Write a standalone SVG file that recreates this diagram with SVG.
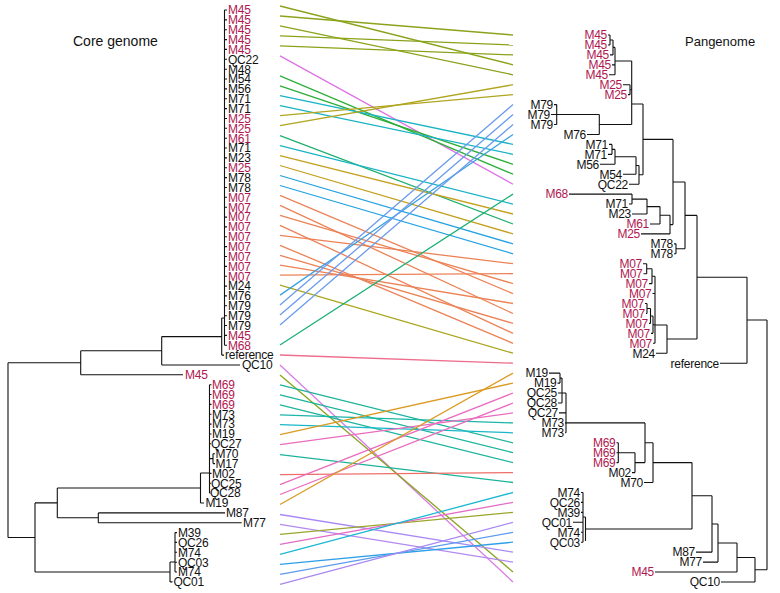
<svg xmlns="http://www.w3.org/2000/svg" width="780" height="593" viewBox="0 0 780 593">
<style>
.tr{fill:none;stroke:#111;stroke-width:1.1}
.lb{font-family:"Liberation Sans",Arial,sans-serif;font-size:12px;letter-spacing:-0.25px;fill:#111}
.r{fill:#B0174F}
.e{text-anchor:end}
.ti{font-family:"Liberation Sans",Arial,sans-serif;fill:#111}
#connectors line{stroke-width:1.3}
</style>
<rect width="780" height="593" fill="#fff"/>
<text class="ti" x="73" y="46" font-size="14">Core genome</text>
<text class="ti" x="685" y="46" font-size="13">Pangenome</text>

<g id="connectors">
<line x1="280" y1="6" x2="513" y2="64.8" stroke="#8AA31B"/>
<line x1="280" y1="16" x2="513" y2="35" stroke="#8AA31B"/>
<line x1="280" y1="25.9" x2="513" y2="74.8" stroke="#8AA31B"/>
<line x1="280" y1="35.9" x2="513" y2="45" stroke="#8AA31B"/>
<line x1="280" y1="45.9" x2="513" y2="54.9" stroke="#8AA31B"/>
<line x1="280" y1="55.9" x2="513" y2="184.2" stroke="#DD72E6"/>
<line x1="280" y1="75.8" x2="513" y2="174.2" stroke="#2DAE3A"/>
<line x1="280" y1="85.8" x2="513" y2="164.3" stroke="#2DAE3A"/>
<line x1="280" y1="95.7" x2="513" y2="144.4" stroke="#18B4C4"/>
<line x1="280" y1="105.7" x2="513" y2="154.3" stroke="#18B4C4"/>
<line x1="280" y1="115.7" x2="513" y2="94.7" stroke="#B0A51E"/>
<line x1="280" y1="125.6" x2="513" y2="84.7" stroke="#B0A51E"/>
<line x1="280" y1="135.6" x2="513" y2="224" stroke="#1FAF6E"/>
<line x1="280" y1="145.6" x2="513" y2="204.1" stroke="#18B4C4"/>
<line x1="280" y1="155.6" x2="513" y2="214" stroke="#C4A01E"/>
<line x1="280" y1="165.5" x2="513" y2="233.9" stroke="#C4A01E"/>
<line x1="280" y1="175.5" x2="513" y2="243.9" stroke="#25A2E2"/>
<line x1="280" y1="185.5" x2="513" y2="253.8" stroke="#25A2E2"/>
<line x1="280" y1="195.4" x2="513" y2="293.6" stroke="#EC8256"/>
<line x1="280" y1="205.4" x2="513" y2="313.5" stroke="#EC8256"/>
<line x1="280" y1="215.4" x2="513" y2="283.6" stroke="#EC8256"/>
<line x1="280" y1="225.3" x2="513" y2="333.4" stroke="#EC8256"/>
<line x1="280" y1="235.3" x2="513" y2="263.7" stroke="#EC8256"/>
<line x1="280" y1="245.3" x2="513" y2="343.3" stroke="#EC8256"/>
<line x1="280" y1="255.3" x2="513" y2="323.4" stroke="#EC8256"/>
<line x1="280" y1="265.2" x2="513" y2="303.5" stroke="#EC8256"/>
<line x1="280" y1="275.2" x2="513" y2="273.7" stroke="#EC8256"/>
<line x1="280" y1="285.2" x2="513" y2="353.2" stroke="#ABA51C"/>
<line x1="280" y1="295.1" x2="513" y2="134.5" stroke="#3AA0E0"/>
<line x1="280" y1="305.1" x2="513" y2="104.6" stroke="#6B9BEC"/>
<line x1="280" y1="315.1" x2="513" y2="114.6" stroke="#6B9BEC"/>
<line x1="280" y1="325" x2="513" y2="124.5" stroke="#6B9BEC"/>
<line x1="280" y1="345" x2="513" y2="194.1" stroke="#1EAF76"/>
<line x1="280" y1="355" x2="513" y2="363.2" stroke="#EE6D8C"/>
<line x1="280" y1="364.9" x2="513" y2="582" stroke="#D97BE5"/>
<line x1="280" y1="374.9" x2="513" y2="572" stroke="#8AA31B"/>
<line x1="280" y1="384.9" x2="513" y2="442.8" stroke="#1DB49C"/>
<line x1="280" y1="394.8" x2="513" y2="452.7" stroke="#1DB49C"/>
<line x1="280" y1="404.8" x2="513" y2="462.6" stroke="#1DB49C"/>
<line x1="280" y1="414.8" x2="513" y2="422.9" stroke="#1AB6A8"/>
<line x1="280" y1="424.7" x2="513" y2="432.8" stroke="#18B7C6"/>
<line x1="280" y1="434.7" x2="513" y2="383.1" stroke="#DB9A22"/>
<line x1="280" y1="444.7" x2="513" y2="412.9" stroke="#E96CBE"/>
<line x1="280" y1="454.7" x2="513" y2="482.5" stroke="#1DB39A"/>
<line x1="280" y1="474.6" x2="513" y2="472.6" stroke="#EE6E6A"/>
<line x1="280" y1="484.6" x2="513" y2="393" stroke="#E96CBE"/>
<line x1="280" y1="494.5" x2="513" y2="403" stroke="#E96CBE"/>
<line x1="280" y1="504.5" x2="513" y2="373.1" stroke="#DB9A22"/>
<line x1="280" y1="514.5" x2="513" y2="552.1" stroke="#A98AF4"/>
<line x1="280" y1="524.4" x2="513" y2="562.1" stroke="#B389F0"/>
<line x1="280" y1="534.4" x2="513" y2="512.4" stroke="#9AA62A"/>
<line x1="280" y1="544.4" x2="513" y2="502.4" stroke="#E36BC6"/>
<line x1="280" y1="554.4" x2="513" y2="492.5" stroke="#1EB8D2"/>
<line x1="280" y1="564.3" x2="513" y2="542.2" stroke="#2F9FE8"/>
<line x1="280" y1="574.3" x2="513" y2="532.3" stroke="#5C9CEC"/>
<line x1="280" y1="584.3" x2="513" y2="522.3" stroke="#A788F2"/>
</g>

<g id="core-tree">
<path class="tr" d="M8,362.8V537.5M8,362.8H80.7M8,537.5H35
M80.7,350.8V374.8M80.7,374.8H183M80.7,350.8H161.7
M161.7,336.6V365M161.7,365H240M161.7,336.6H221.7
M221.7,318V355.1M221.7,355.1H224M221.7,318H224.5
M224.5,10V345.2
M224.5,10h2.5M224.5,19.9h2.5M224.5,29.7h2.5M224.5,39.6h2.5M224.5,49.4h2.5M224.5,59.3h2.5M224.5,69.2h2.5M224.5,79h2.5M224.5,88.9h2.5M224.5,98.7h2.5M224.5,108.6h2.5M224.5,118.5h2.5M224.5,128.3h2.5M224.5,138.2h2.5M224.5,148h2.5M224.5,157.9h2.5M224.5,167.8h2.5M224.5,177.6h2.5M224.5,187.5h2.5M224.5,197.3h2.5M224.5,207.2h2.5M224.5,217.1h2.5M224.5,226.9h2.5M224.5,236.8h2.5M224.5,246.6h2.5M224.5,256.5h2.5M224.5,266.4h2.5M224.5,276.2h2.5M224.5,286.1h2.5M224.5,295.9h2.5M224.5,305.8h2.5M224.5,315.7h2.5M224.5,325.5h2.5M224.5,335.4h2.5M224.5,345.2h2.5
M35,502.9V572M35,502.9H57.3M35,572H170
M57.3,488V517.8M57.3,488H200.5M57.3,517.8H98.3
M200.5,473V503M200.5,473H209.5M200.5,503H204
M209.5,384.7V493.1M209.5,458.6H213M213,453.7V463.6M213,453.7h2M213,463.6h2
M209.5,384.7h2M209.5,394.5h2M209.5,404.4h2M209.5,414.3h2M209.5,424.1h2M209.5,434h2M209.5,443.8h1.5M209.5,473.4h2M209.5,483.3h1.5M209.5,493.1h1
M98.3,512.9V522.7M98.3,512.9H225M98.3,522.7H241.7
M170,562V581.9M170,581.9H172.5M170,562H175M175,532.6V572
M175,532.6h2M175,542.4h2M175,552.3h2M175,562.2h2M175,572h2"/>
</g>

<g id="core-leaves" class="lb">
<text id="L1" class="r" x="228" y="14.3">M45</text>
<text id="L2" class="r" x="228" y="24.2">M45</text>
<text id="L3" class="r" x="228" y="34">M45</text>
<text id="L4" class="r" x="228" y="43.9">M45</text>
<text id="L5" class="r" x="228" y="53.7">M45</text>
<text id="L6" x="228" y="63.6">QC22</text>
<text id="L7" x="228" y="73.5">M48</text>
<text id="L8" x="228" y="83.3">M54</text>
<text id="L9" x="228" y="93.2">M56</text>
<text id="L10" x="228" y="103">M71</text>
<text id="L11" x="228" y="112.9">M71</text>
<text id="L12" class="r" x="228" y="122.8">M25</text>
<text id="L13" class="r" x="228" y="132.6">M25</text>
<text id="L14" class="r" x="228" y="142.5">M61</text>
<text id="L15" x="228" y="152.3">M71</text>
<text id="L16" x="228" y="162.2">M23</text>
<text id="L17" class="r" x="228" y="172.1">M25</text>
<text id="L18" x="228" y="181.9">M78</text>
<text id="L19" x="228" y="191.8">M78</text>
<text id="L20" class="r" x="228" y="201.6">M07</text>
<text id="L21" class="r" x="228" y="211.5">M07</text>
<text id="L22" class="r" x="228" y="221.4">M07</text>
<text id="L23" class="r" x="228" y="231.2">M07</text>
<text id="L24" class="r" x="228" y="241.1">M07</text>
<text id="L25" class="r" x="228" y="250.9">M07</text>
<text id="L26" class="r" x="228" y="260.8">M07</text>
<text id="L27" class="r" x="228" y="270.7">M07</text>
<text id="L28" class="r" x="228" y="280.5">M07</text>
<text id="L29" x="228" y="290.4">M24</text>
<text id="L30" x="228" y="300.2">M76</text>
<text id="L31" x="228" y="310.1">M79</text>
<text id="L32" x="228" y="320">M79</text>
<text id="L33" x="228" y="329.8">M79</text>
<text id="L34" class="r" x="228" y="339.7">M45</text>
<text id="L35" class="r" x="228" y="349.5">M68</text>
<text id="L36" x="225" y="359.4">reference</text>
<text id="L37" x="242" y="369.3">QC10</text>
<text id="L38" class="r" x="185" y="379.1">M45</text>
<text id="L39" class="r" x="212" y="389">M69</text>
<text id="L40" class="r" x="212" y="398.8">M69</text>
<text id="L41" class="r" x="212" y="408.7">M69</text>
<text id="L42" x="212" y="418.6">M73</text>
<text id="L43" x="212" y="428.4">M73</text>
<text id="L44" x="212" y="438.3">M19</text>
<text id="L45" x="211" y="448.1">QC27</text>
<text id="L46" x="215.5" y="458">M70</text>
<text id="L47" x="215.5" y="467.9">M17</text>
<text id="L48" x="212" y="477.7">M02</text>
<text id="L49" x="211" y="487.6">QC25</text>
<text id="L50" x="210" y="497.4">QC28</text>
<text id="L51" x="205.5" y="507.3">M19</text>
<text id="L52" x="226" y="517.2">M87</text>
<text id="L53" x="243" y="527">M77</text>
<text id="L54" x="178" y="536.9">M39</text>
<text id="L55" x="178" y="546.7">QC26</text>
<text id="L56" x="178" y="556.6">M74</text>
<text id="L57" x="178" y="566.5">QC03</text>
<text id="L58" x="178" y="576.3">M74</text>
<text id="L59" x="173.5" y="586.2">QC01</text>
</g>

<g id="pan-tree">
<path class="tr" d="M608,35H610M608,44.95H610M610,35V44.95M610,40H613M610,54.89H613M613,40V54.89M613,47.4H615
M612,64.84H615M609,74.78H615M615,47.4V74.78M615,61H631.7
M623,84.73H630M628,94.67H630M630,84.73V94.67M630,89.7H631.7
M554,104.62H556.7M551,114.56H556.7M554,124.51H556.7M556.7,104.62V124.51M556.7,114.56H599.3
M587,134.45H599.3M599.3,114.56V134.45M599.3,124.5H631.7
M631.7,61V124.5M631.7,104H643
M609,144.4H612M608,154.34H612M612,144.4V154.34M612,149.4H615M600,164.29H615M615,149.4V164.29M615,156.8H636
M623,174.23H636M636,156.8V174.23M636,165.5H639M629,184.18H639M639,165.5V184.18M639,174.8H643
M643,104V174.8M643,139.4H673
M569,194.12H632M629,204.07H632M632,194.12V204.07M632,199.1H647M632,214.01H647M647,199.1V214.01M647,206.6H660
M650,223.96H660M660,206.6V223.96M660,215.3H670M641,233.9H670M670,215.3V233.9M670,224.6H673
M673,139.4V224.6M673,182H685
M674,243.85H676M674,253.79H676M676,243.85V253.79M676,248.8H685M685,182V248.8M685,215.4H697
M643,263.74H646.7M643.5,273.68H646.7M646.7,263.74V273.68M646.7,268.7H652M649,283.63H652M652,268.7V283.63M652,276.2H655
M652.5,293.57H655M645,303.52H647M646,313.46H647M647,303.52V313.46M647,308.5H650.5M649,323.41H650.5M650.5,308.5V323.41M650.5,316H653
M651,333.35H653M653,316V333.35M653,324.7H655M653,343.3H655M655,276.2V343.3M655,325H667
M656,353.24H667M667,325V353.24M667,339H697M697,215.4V339M697,277.2H747
M720,363.19H747M747,277.2V363.19M747,320H767
M549,373.13H560M557.5,383.08H560M560,373.13V383.08M560,378.1H562M558,393.02H562M558,402.97H562M562,378.1V402.97M562,393H566
M559,412.91H566M565,422.86H566M565,432.8H566M566,393V432.8M566,422.9H645
M616.5,442.75H618.3M616.5,452.69H618.3M616.5,462.64H618.3M618.3,442.75V462.64M618.3,452.7H635
M632,472.58H635M635,452.7V472.58M635,462.6H645M645,422.9V462.6M645,442.7H653
M644,482.53H653M653,442.7V482.53M653,462.6H692
M581,492.47H583M581,502.42H583M581,512.36H583M573,522.31H583M581,532.25H583M581,542.2H583M583,492.47V542.2M583,517H585.5M585.5,517V541M585.5,529H692
M692,462.6V529M692,495.8H712M696,552.14H712M712,495.8V552.14M712,524H718
M703,562.09H718M718,524V562.09M718,543H737M655,572.03H737M737,543V572.03M737,557.5H755
M721,581.98H755M755,557.5V581.98M755,569.7H767M767,320V569.7"/>
</g>

<g id="pan-leaves" class="lb e">
<text id="R1" class="r" x="607" y="39.3">M45</text>
<text id="R2" class="r" x="607" y="49.3">M45</text>
<text id="R3" class="r" x="609" y="59.2">M45</text>
<text id="R4" class="r" x="611" y="69.1">M45</text>
<text id="R5" class="r" x="608" y="79.1">M45</text>
<text id="R6" class="r" x="622" y="89">M25</text>
<text id="R7" class="r" x="627" y="99">M25</text>
<text id="R8" x="553" y="108.9">M79</text>
<text id="R9" x="550" y="118.9">M79</text>
<text id="R10" x="553" y="128.8">M79</text>
<text id="R11" x="586" y="138.8">M76</text>
<text id="R12" x="608" y="148.7">M71</text>
<text id="R13" x="607" y="158.6">M71</text>
<text id="R14" x="599" y="168.6">M56</text>
<text id="R15" x="622" y="178.5">M54</text>
<text id="R16" x="628" y="188.5">QC22</text>
<text id="R17" class="r" x="568" y="198.4">M68</text>
<text id="R18" x="628" y="208.4">M71</text>
<text id="R19" x="631" y="218.3">M23</text>
<text id="R20" class="r" x="649" y="228.3">M61</text>
<text id="R21" class="r" x="640" y="238.2">M25</text>
<text id="R22" x="673" y="248.2">M78</text>
<text id="R23" x="673" y="258.1">M78</text>
<text id="R24" class="r" x="642" y="268">M07</text>
<text id="R25" class="r" x="642.5" y="278">M07</text>
<text id="R26" class="r" x="648" y="287.9">M07</text>
<text id="R27" class="r" x="651.5" y="297.9">M07</text>
<text id="R28" class="r" x="644" y="307.8">M07</text>
<text id="R29" class="r" x="645" y="317.8">M07</text>
<text id="R30" class="r" x="648" y="327.7">M07</text>
<text id="R31" class="r" x="650" y="337.7">M07</text>
<text id="R32" class="r" x="652" y="347.6">M07</text>
<text id="R33" x="655" y="357.5">M24</text>
<text id="R34" x="719" y="367.5">reference</text>
<text id="R35" x="548" y="377.4">M19</text>
<text id="R36" x="556.5" y="387.4">M19</text>
<text id="R37" x="557" y="397.3">QC25</text>
<text id="R38" x="557" y="407.3">QC28</text>
<text id="R39" x="558" y="417.2">QC27</text>
<text id="R40" x="564" y="427.2">M73</text>
<text id="R41" x="564" y="437.1">M73</text>
<text id="R42" class="r" x="615.5" y="447.1">M69</text>
<text id="R43" class="r" x="615.5" y="457">M69</text>
<text id="R44" class="r" x="615.5" y="466.9">M69</text>
<text id="R45" x="631" y="476.9">M02</text>
<text id="R46" x="643" y="486.8">M70</text>
<text id="R47" x="580" y="496.8">M74</text>
<text id="R48" x="580" y="506.7">QC26</text>
<text id="R49" x="580" y="516.7">M39</text>
<text id="R50" x="572" y="526.6">QC01</text>
<text id="R51" x="580" y="536.6">M74</text>
<text id="R52" x="580" y="546.5">QC03</text>
<text id="R53" x="695" y="556.4">M87</text>
<text id="R54" x="702" y="566.4">M77</text>
<text id="R55" class="r" x="654" y="576.3">M45</text>
<text id="R56" x="720" y="586.3">QC10</text>
</g>
</svg>
